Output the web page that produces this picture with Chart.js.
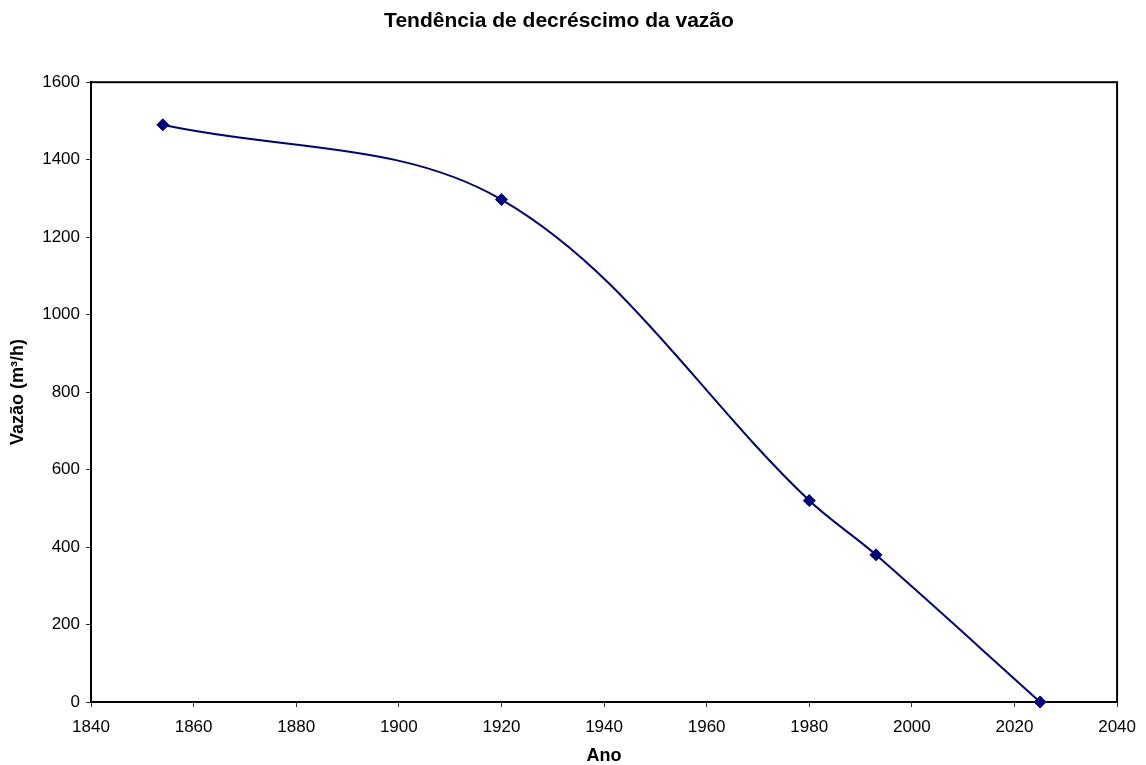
<!DOCTYPE html>
<html>
<head>
<meta charset="utf-8">
<script src="https://cdn.jsdelivr.net/npm/chart.js@4"></script>
<style>
  body { margin: 0; background: #fff; }
  #wrap { width: 1146px; height: 765px; }
</style>
</head>
<body>
<div id="wrap"><canvas id="flowChart"></canvas></div>
<script>
// Data
const years = [1854, 1920, 1980, 1993, 2025];
const flow = [1490, 1297, 520, 380, 0];
const xTicks = [1840, 1860, 1880, 1900, 1920, 1940, 1960, 1980, 2000, 2020, 2040];
const yTicks = [0, 200, 400, 600, 800, 1000, 1200, 1400, 1600];

const FONT = "'Liberation Sans', Arial, sans-serif";
const NAVY = '#000080';

// Draws the black frame around the plot area
const plotFrame = {
    id: 'plotFrame',
    beforeDatasetsDraw(chart) {
        const { ctx, chartArea: a } = chart;
        ctx.save();
        ctx.strokeStyle = '#000';
        ctx.lineWidth = 2;
        ctx.strokeRect(a.left, a.top, a.right - a.left, a.bottom - a.top);
        ctx.restore();
    }
};

const ctx = document.getElementById('flowChart').getContext('2d');

new Chart(ctx, {
    type: 'line',
    data: {
        datasets: [{
            data: years.map((y, i) => ({ x: y, y: flow[i] })),
            borderColor: NAVY,
            backgroundColor: NAVY,
            borderWidth: 2,
            pointStyle: 'rectRot',
            pointRadius: 6,
            pointBorderWidth: 1,
            tension: 0.35,
            clip: false
        }]
    },
    options: {
        responsive: true,
        maintainAspectRatio: false,
        animation: false,
        layout: { padding: { left: 0, right: 28, top: 0, bottom: 0 } },
        plugins: {
            legend: { display: false },
            tooltip: { enabled: false },
            title: {
                display: true,
                text: 'Tendência de decréscimo da vazão',
                color: '#000',
                font: { family: FONT, size: 21, weight: 'bold', lineHeight: 1.2 },
                padding: { top: 9, bottom: 48 }
            }
        },
        scales: {
            x: {
                type: 'linear',
                min: xTicks[0],
                max: xTicks[xTicks.length - 1],
                afterBuildTicks: (s) => { s.ticks = xTicks.map(v => ({ value: v })); },
                afterFit: (s) => { s.height = 63; },
                grid: { drawOnChartArea: false, drawTicks: true, tickLength: 5, color: '#333', lineWidth: 1 },
                border: { display: true, color: '#000', width: 2 },
                ticks: {
                    color: '#000',
                    padding: 10,
                    maxRotation: 0,
                    font: { family: FONT, size: 17 },
                    callback: (v) => String(v)
                },
                title: {
                    display: true,
                    text: 'Ano',
                    color: '#000',
                    font: { family: FONT, size: 18, weight: 'bold', lineHeight: 1 },
                    padding: 0
                }
            },
            y: {
                min: yTicks[0],
                max: yTicks[yTicks.length - 1],
                afterBuildTicks: (s) => { s.ticks = yTicks.map(v => ({ value: v })); },
                afterFit: (s) => { s.width = 91; },
                grid: { drawOnChartArea: false, drawTicks: true, tickLength: 5, color: '#333', lineWidth: 1 },
                border: { display: true, color: '#000', width: 2 },
                ticks: {
                    color: '#000',
                    padding: 6,
                    font: { family: FONT, size: 17 },
                    callback: (v) => String(v)
                },
                title: {
                    display: true,
                    text: 'Vazão (m³/h)',
                    color: '#000',
                    font: { family: FONT, size: 18, weight: 'bold', lineHeight: 1.2 },
                    padding: { top: 7, bottom: 0 }
                }
            }
        }
    },
    plugins: [plotFrame]
});
</script>
</body>
</html>
